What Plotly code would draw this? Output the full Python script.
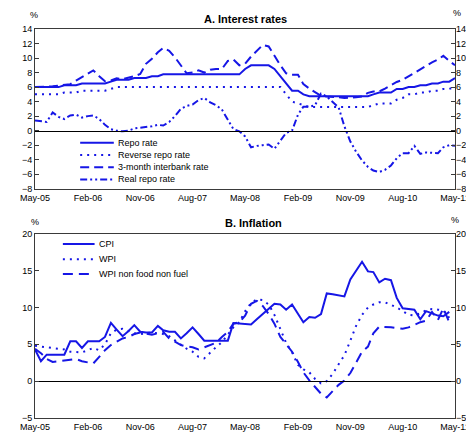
import plotly.graph_objects as go
import pandas as pd

# ---------------- data ----------------
dates = pd.date_range("2005-05-01", periods=73, freq="MS")
tick_dates = list(dates[::9])
tick_text = [d.strftime("%b-%y") for d in tick_dates]

repo = [6.0, 6.0, 6.0, 6.0, 6.0, 6.25, 6.25, 6.25, 6.5, 6.5, 6.5, 6.5,
        6.5, 6.75, 7.0, 7.0, 7.0, 7.25, 7.25, 7.25, 7.5, 7.5, 7.75, 7.75,
        7.75, 7.75, 7.75, 7.75, 7.75, 7.75, 7.75, 7.75, 7.75, 7.75, 7.75, 7.75,
        8.5, 9.0, 9.0, 9.0, 9.0, 8.5, 7.5, 6.5, 5.5, 5.5, 5.0, 4.75,
        4.75, 4.75, 4.75, 4.75, 4.75, 4.75, 4.75, 4.75, 4.75, 4.75, 5.0, 5.25,
        5.25, 5.25, 5.75, 5.75, 6.0, 6.0, 6.25, 6.25, 6.5, 6.5, 6.75, 6.75,
        7.25]
reverse_repo = [5.0, 5.0, 5.0, 5.0, 5.0, 5.25, 5.25, 5.25, 5.5, 5.5, 5.5, 5.5,
                5.5, 5.75, 6.0, 6.0, 6.0, 6.0, 6.0, 6.0, 6.0, 6.0, 6.0, 6.0,
                6.0, 6.0, 6.0, 6.0, 6.0, 6.0, 6.0, 6.0, 6.0, 6.0, 6.0, 6.0,
                6.0, 6.0, 6.0, 6.0, 6.0, 6.0, 6.0, 5.0, 4.0, 3.75, 3.5, 3.25,
                3.25, 3.25, 3.25, 3.25, 3.25, 3.25, 3.25, 3.25, 3.25, 3.25, 3.5, 3.75,
                3.75, 3.75, 4.25, 4.5, 5.0, 5.0, 5.25, 5.25, 5.5, 5.5, 5.75, 5.75,
                6.0]
interbank_3m = [6.0, 6.0, 6.0, 6.1, 6.2, 6.3, 6.4, 6.9, 7.4, 7.8, 8.3, 7.5,
                6.8, 6.9, 7.2, 7.1, 7.3, 7.5, 7.8, 9.2, 9.9, 10.8, 11.4, 11.0,
                10.1, 8.9, 7.9, 8.0, 8.3, 8.0, 8.4, 8.5, 8.5, 9.6, 9.8, 9.0,
                9.2, 10.2, 11.0, 11.8, 11.6, 10.3, 9.0, 7.9, 7.7, 7.7, 6.4, 5.8,
                5.3, 4.8, 4.7, 4.7, 4.6, 4.5, 4.5, 4.6, 4.7, 5.2, 5.4, 5.4,
                5.8, 6.3, 6.7, 7.0, 7.5, 8.0, 8.5, 9.0, 9.4, 9.8, 10.3, 9.6,
                9.0]
real_repo = [1.4, 1.3, 1.2, 2.5, 1.9, 1.6, 2.1, 2.2, 1.8, 2.0, 2.1, 1.6,
             0.8, 0.2, 0.0, -0.1, 0.0, 0.3, 0.4, 0.4, 0.6, 0.8, 0.7, 1.2,
             2.0, 3.0, 3.4, 3.6, 4.2, 4.5, 3.9, 3.5, 2.9, 1.5, 0.2, -0.1,
             -0.8, -2.3, -2.1, -2.0, -1.9, -2.5, -1.3, -0.3, 0.0, 2.2, 3.3, 3.3,
             3.5, 5.1, 4.7, 3.9, 3.2, 0.6, -1.5, -2.9, -4.1, -5.0, -5.5, -5.7,
             -5.4, -4.8, -3.8, -3.1, -3.1, -2.1, -3.2, -3.0, -3.0, -3.1, -2.3, -2.0,
             -2.1]

cpi = [4.3, 2.7, 3.6, 3.6, 3.6, 3.6, 5.4, 5.4, 4.5, 5.4, 5.4, 5.4,
       6.0, 7.9, 7.0, 6.1, 6.8, 7.6, 6.7, 6.6, 6.6, 7.5, 6.9, 6.7,
       6.7, 5.8, 6.5, 7.3, 6.4, 5.5, 5.5, 5.5, 5.5, 5.5, 7.9, 7.8,
       7.8, 7.7, 8.4, 9.1, 9.8, 10.5, 10.4, 9.7, 10.4, 9.2, 8.0, 8.7,
       8.6, 9.1, 11.9, 11.8, 11.6, 11.5, 13.8, 15.0, 16.2, 14.9, 14.8, 13.4,
       13.9, 13.7, 11.3, 9.9, 9.8, 9.7, 8.4, 9.5, 9.2, 8.9, 8.8, 9.4,
       None]
wpi = [4.8, 4.7, 4.6, 4.6, 4.5, 4.3, 4.0, 3.9, 3.9, 4.2, 4.5, 4.2,
       5.0, 6.5, 7.0, 7.1, 6.8, 6.5, 6.4, 6.5, 6.6, 6.5, 6.4, 6.1,
       5.5, 4.9, 4.4, 4.0, 3.3, 3.1, 3.9, 4.6, 5.3, 6.4, 7.3, 8.0,
       9.5, 10.6, 11.1, 11.0, 10.4, 9.0, 7.0, 5.2, 3.9, 2.2, 1.6, 1.2,
       0.3, -0.3, 0.0, 1.0, 2.3, 3.5, 5.5, 7.5, 9.0, 10.0, 10.4, 10.7,
       10.7, 10.4, 10.0, 9.5, 9.0, 8.9, 9.2, 9.6, 9.8, 9.7, 9.6, 8.6,
       None]
wpi_core = [4.4, 3.8, 3.0, 2.6, 2.7, 2.8, 2.9, 3.0, 2.7, 2.5, 2.4, 3.3,
            4.2, 4.9, 5.4, 5.8, 6.0, 6.4, 6.6, 6.5, 6.3, 6.5, 6.7, 5.8,
            5.3, 4.9, 4.7, 4.6, 4.3, 4.6, 5.0, 5.2, 6.0, 6.7, 7.8, 8.0,
            8.9, 10.5, 10.9, 10.2, 9.1, 7.8, 6.0, 5.0, 4.0, 2.6, 1.2, 0.1,
            -0.8, -1.7, -2.2, -1.4, -0.5, 0.1, 1.1, 2.5, 4.0, 4.7, 6.5, 7.4,
            7.4, 7.3, 7.2, 7.1, 7.3, 7.7, 8.0, 8.2, 9.4, 8.3, 9.9, 8.0,
            None]

top_names = ["Repo rate", "Reverse repo rate", "3-month interbank rate", "Real repo rate"]
bottom_names = ["CPI", "WPI", "WPI non food non fuel"]

# ---------------- styling ----------------
W, H = 474, 436
ML, MR, MT, MB = 18, 19, 21, 18
PW, PH = W - ML - MR, H - MT - MB
BLUE = "#1616e6"
FONT = "Liberation Sans, Arial, sans-serif"
FRAME = "#3a3a3a"

def px_x(x):
    return (x - ML) / PW

def px_y(y):
    return (H - MB - y) / PH

top_dom = [px_y(184), 1.0]
bot_dom = [0.0, px_y(230)]
top_rng = [-8, 14]
bot_rng = [-5, 20]

def zero_pos(dom, rng):
    return dom[0] + (0 - rng[0]) / (rng[1] - rng[0]) * (dom[1] - dom[0])

top_styles = [dict(width=2, dash="solid"),
              dict(width=2, dash="2px,5px"),
              dict(width=2, dash="9px,5px"),
              dict(width=2, dash="7px,3px,2px,3px,2px,3px")]
bot_styles = [dict(width=2, dash="solid"),
              dict(width=2, dash="2px,5px"),
              dict(width=2, dash="10px,6px")]

fig = go.Figure()
for name, vals, st in zip(top_names, [repo, reverse_repo, interbank_3m, real_repo], top_styles):
    fig.add_trace(go.Scatter(x=dates, y=vals, mode="lines", name=name,
                             line=dict(color=BLUE, **st), xaxis="x", yaxis="y",
                             showlegend=False, connectgaps=False))
for name, vals, st in zip(bottom_names, [cpi, wpi, wpi_core], bot_styles):
    fig.add_trace(go.Scatter(x=dates, y=vals, mode="lines", name=name,
                             line=dict(color=BLUE, **st), xaxis="x2", yaxis="y2",
                             showlegend=False, connectgaps=False))

# dummy traces to make overlay axes render
for xa, ya in [("x3", "y"), ("x", "y3"), ("x4", "y2"), ("x2", "y4")]:
    fig.add_trace(go.Scatter(x=[None], y=[None], xaxis=xa, yaxis=ya,
                             showlegend=False, hoverinfo="skip"))

xr = [dates[0], dates[-1]]
tickfont = dict(family=FONT, size=9, color="#000")

def main_x(dom_anchor):
    return dict(range=xr, anchor=dom_anchor, tickvals=tick_dates, ticktext=tick_text,
                ticks="", showline=True, mirror=True, linecolor=FRAME, linewidth=1,
                showgrid=False, zeroline=False, tickfont=tickfont)

def zero_x(overlay, pos):
    return dict(range=xr, overlaying=overlay, anchor="free", position=pos,
                tickvals=tick_dates, ticks="inside", ticklen=4, tickcolor="#000",
                showticklabels=False, showline=True, linecolor="#000", linewidth=1,
                showgrid=False, zeroline=False)

def main_y(dom, rng, dtick, anchor):
    return dict(domain=dom, range=rng, dtick=dtick, anchor=anchor, ticks="inside",
                ticklen=4, tickcolor=FRAME, showline=True, mirror="ticks",
                linecolor=FRAME, linewidth=1, showgrid=False, zeroline=False,
                tickfont=tickfont)

def right_y(overlay, rng, dtick, anchor):
    return dict(range=rng, dtick=dtick, overlaying=overlay, side="right", anchor=anchor,
                ticks="", showline=False, showgrid=False, zeroline=False,
                tickfont=tickfont)

fig.update_layout(
    width=W, height=H, margin=dict(l=ML, r=MR, t=MT, b=MB),
    paper_bgcolor="white", plot_bgcolor="white",
    showlegend=False,
    xaxis=main_x("y"),
    yaxis=main_y(top_dom, top_rng, 2, "x"),
    xaxis2=main_x("y2"),
    yaxis2=main_y(bot_dom, bot_rng, 5, "x2"),
    xaxis3=zero_x("x", zero_pos(top_dom, top_rng)),
    yaxis3=right_y("y", top_rng, 2, "x"),
    xaxis4=zero_x("x2", zero_pos(bot_dom, bot_rng)),
    yaxis4=right_y("y2", bot_rng, 5, "x2"),
    font=dict(family=FONT, size=9, color="#000"),
)

annotations = []
shapes = []
# titles
annotations.append(dict(text="<b>A. Interest rates</b>", x=px_x(237), y=px_y(11),
                        xref="paper", yref="paper", showarrow=False,
                        font=dict(family=FONT, size=11), xanchor="center", yanchor="middle"))
annotations.append(dict(text="<b>B. Inflation</b>", x=px_x(245), y=px_y(219),
                        xref="paper", yref="paper", showarrow=False,
                        font=dict(family=FONT, size=11), xanchor="center", yanchor="middle"))
# % labels
for (xx, yy) in [(17, 7), (457, 5), (17.5, 218), (455, 216)]:
    annotations.append(dict(text="%", x=px_x(xx), y=px_y(yy), xref="paper", yref="paper",
                            showarrow=False, font=dict(family=FONT, size=9),
                            xanchor="center", yanchor="middle"))

# manual legends
def add_legend(names, styles, x0, x1, ys):
    for name, st, yy in zip(names, styles, ys):
        shapes.append(dict(type="line", xref="paper", yref="paper",
                           x0=px_x(x0), x1=px_x(x1), y0=px_y(yy), y1=px_y(yy),
                           line=dict(color=BLUE, width=st["width"], dash=st["dash"])))
        annotations.append(dict(text=name, x=px_x(x1 + 2), y=px_y(yy), xref="paper",
                                yref="paper", showarrow=False, xanchor="left",
                                yanchor="middle", font=dict(family=FONT, size=9)))

add_legend(top_names, top_styles, 65, 100, [137, 149.5, 162, 174.5])
add_legend(bottom_names, bot_styles, 47, 80, [240.5, 256, 271])

fig.update_layout(annotations=annotations, shapes=shapes)
fig.write_html("out.html")
